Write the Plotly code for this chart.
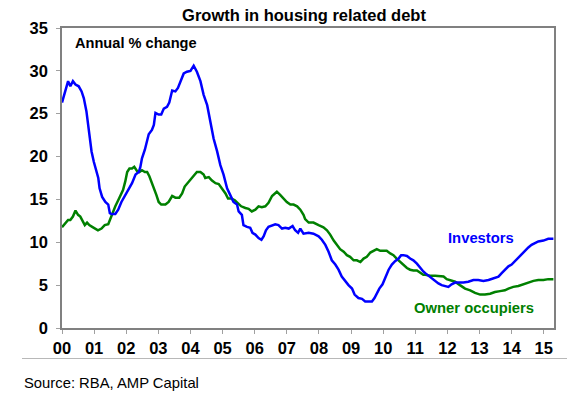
import plotly.graph_objects as go

# Investors (annual % change), x in decimal years
inv_x = [2000.0, 2000.05, 2000.19, 2000.26, 2000.34, 2000.42, 2000.52, 2000.61, 2000.68, 2000.76,
         2000.83, 2000.92, 2000.99, 2001.07, 2001.13, 2001.17, 2001.25, 2001.35, 2001.44, 2001.49,
         2001.54, 2001.66, 2001.75, 2001.85, 2001.97, 2002.08, 2002.18, 2002.29, 2002.39, 2002.44,
         2002.49, 2002.58, 2002.65, 2002.70, 2002.80, 2002.86, 2002.91, 2003.01, 2003.09, 2003.17,
         2003.27, 2003.34, 2003.43, 2003.53, 2003.61, 2003.69, 2003.79, 2003.89, 2004.0, 2004.10,
         2004.20, 2004.31, 2004.41, 2004.52, 2004.62, 2004.72, 2004.83, 2004.93, 2005.03, 2005.14,
         2005.24, 2005.34, 2005.45, 2005.50, 2005.60, 2005.65, 2005.76, 2005.86, 2005.93, 2006.02,
         2006.12, 2006.21, 2006.28, 2006.35, 2006.43, 2006.54, 2006.64, 2006.74, 2006.85, 2006.95,
         2007.06, 2007.18, 2007.26, 2007.35, 2007.42, 2007.52, 2007.68, 2007.83, 2007.99, 2008.09,
         2008.20, 2008.30, 2008.40, 2008.51, 2008.61, 2008.71, 2008.82, 2008.92, 2009.03, 2009.11,
         2009.23, 2009.34, 2009.44, 2009.54, 2009.65, 2009.73, 2009.80, 2009.88, 2009.98, 2010.06,
         2010.17, 2010.27, 2010.37, 2010.48, 2010.56, 2010.63, 2010.74, 2010.84, 2010.94, 2011.05,
         2011.15, 2011.25, 2011.31, 2011.41, 2011.51, 2011.62, 2011.72, 2011.82, 2011.93, 2012.03,
         2012.13, 2012.24, 2012.34, 2012.50, 2012.65, 2012.81, 2012.96, 2013.12, 2013.28, 2013.43,
         2013.59, 2013.69, 2013.79, 2013.90, 2014.00, 2014.10, 2014.21, 2014.31, 2014.42, 2014.52,
         2014.62, 2014.73, 2014.83, 2014.99, 2015.14, 2015.30]
inv_y = [26.3, 27.0, 28.8, 28.2, 28.8, 28.4, 28.2, 27.6, 26.8, 25.3,
         23.3, 20.6, 19.4, 18.2, 17.5, 16.3, 15.3, 14.7, 14.4, 13.4,
         13.3, 13.3, 13.8, 14.7, 15.5, 16.1, 16.9, 17.9, 18.2, 18.8,
         19.8, 20.8, 21.9, 22.6, 23.1, 23.7, 25.1, 24.9, 24.9, 25.6,
         25.8, 26.3, 27.7, 27.6, 28.0, 28.8, 29.7, 29.9, 30.0, 30.6,
         29.9, 28.8, 27.2, 26.0, 24.1, 22.1, 20.6, 19.0, 17.9, 16.3,
         15.5, 14.7, 14.4, 13.6, 13.2, 12.0, 11.8, 11.7, 11.1, 10.9,
         10.5, 10.3, 10.7, 11.4, 11.8, 12.0, 12.1, 12.0, 11.6, 11.7,
         11.6, 11.9, 11.4, 11.1, 11.6, 11.0, 11.1, 11.0, 10.7, 10.3,
         9.7, 8.9, 7.9, 7.4, 6.8, 6.0, 5.4, 5.0, 4.6, 3.9,
         3.5, 3.4, 3.1, 3.1, 3.1, 3.5, 4.0, 4.6, 5.1, 5.8,
         6.8, 7.4, 7.8, 8.1, 8.5, 8.5, 8.4, 8.1, 7.9, 7.5,
         7.0, 6.6, 6.4, 6.1, 5.8, 5.4, 5.2, 5.0, 4.9, 4.8,
         5.1, 5.3, 5.3, 5.3, 5.4, 5.6, 5.6, 5.5, 5.6, 5.8,
         6.0, 6.4, 6.8, 7.2, 7.4, 7.8, 8.2, 8.6, 9.0, 9.4,
         9.7, 9.9, 10.1, 10.2, 10.4, 10.4]

# Owner occupiers (annual % change)
own_x = [2000.0, 2000.09, 2000.19, 2000.26, 2000.34, 2000.42, 2000.50, 2000.57, 2000.65, 2000.71,
         2000.78, 2000.85, 2000.94, 2001.04, 2001.12, 2001.23, 2001.33, 2001.44, 2001.51, 2001.58,
         2001.66, 2001.75, 2001.82, 2001.90, 2001.97, 2002.03, 2002.10, 2002.18, 2002.25, 2002.34,
         2002.41, 2002.49, 2002.58, 2002.65, 2002.72, 2002.80, 2002.88, 2002.94, 2003.01, 2003.09,
         2003.22, 2003.32, 2003.43, 2003.53, 2003.65, 2003.74, 2003.82, 2003.89, 2004.0, 2004.10,
         2004.20, 2004.31, 2004.41, 2004.46, 2004.57, 2004.67, 2004.78, 2004.88, 2004.98, 2005.09,
         2005.17, 2005.27, 2005.38, 2005.48, 2005.58, 2005.71, 2005.81, 2005.91, 2006.02, 2006.12,
         2006.22, 2006.33, 2006.43, 2006.54, 2006.64, 2006.69, 2006.80, 2006.90, 2007.00, 2007.11,
         2007.21, 2007.32, 2007.42, 2007.52, 2007.57, 2007.68, 2007.83, 2007.99, 2008.14, 2008.25,
         2008.35, 2008.46, 2008.56, 2008.66, 2008.77, 2008.87, 2008.97, 2009.08, 2009.18, 2009.29,
         2009.39, 2009.49, 2009.60, 2009.70, 2009.80, 2009.91, 2010.01, 2010.11, 2010.22, 2010.32,
         2010.42, 2010.53, 2010.63, 2010.74, 2010.84, 2010.94, 2011.05, 2011.15, 2011.25, 2011.31,
         2011.46, 2011.62, 2011.77, 2011.88, 2011.98, 2012.08, 2012.24, 2012.39, 2012.55, 2012.71,
         2012.86, 2013.02, 2013.17, 2013.33, 2013.48, 2013.64, 2013.79, 2013.90, 2014.05, 2014.21,
         2014.36, 2014.52, 2014.68, 2014.83, 2014.99, 2015.14, 2015.30]
own_y = [11.75, 12.2, 12.6, 12.6, 13.0, 13.7, 13.2, 13.0, 12.4, 12.0,
         12.3, 12.0, 11.8, 11.6, 11.4, 11.6, 12.0, 12.1, 12.8, 13.4,
         14.2, 14.9, 15.5, 16.1, 17.1, 18.2, 18.6, 18.6, 18.8, 18.3,
         18.2, 18.4, 18.2, 18.2, 17.7, 16.9, 16.3, 15.5, 14.7, 14.4,
         14.4, 14.7, 15.4, 15.2, 15.2, 15.7, 16.5, 16.8, 17.4, 17.8,
         18.2, 18.2, 17.9, 17.5, 17.6, 17.2, 16.9, 16.8, 16.3, 15.7,
         15.1, 15.1, 14.9, 14.6, 14.2, 14.0, 13.9, 13.6, 13.8, 14.2,
         14.1, 14.2, 14.6, 15.4, 15.7, 15.9, 15.5, 15.1, 14.7, 14.4,
         14.4, 14.2, 13.8, 13.2, 12.7, 12.3, 12.3, 12.0, 11.75, 11.4,
         10.9, 10.2, 9.7, 9.2, 8.9, 8.5, 8.3, 7.9, 7.9, 7.7,
         8.1, 8.3, 8.8, 9.0, 9.2, 9.0, 9.0, 9.0, 8.7, 8.5,
         8.1, 7.7, 7.4, 7.0, 6.8, 6.7, 6.7, 6.4, 6.2, 6.2,
         6.1, 6.1, 6.0, 6.0, 5.7, 5.6, 5.4, 5.0, 4.6, 4.4,
         4.1, 3.9, 3.9, 4.0, 4.2, 4.3, 4.4, 4.6, 4.8, 4.9,
         5.1, 5.3, 5.5, 5.6, 5.6, 5.7, 5.7]

tick_vals = list(range(2000, 2016))
tick_text = ["00", "01", "02", "03", "04", "05", "06", "07", "08",
             "09", "10", "11", "12", "13", "14", "15"]

BLUE = "#0000FF"
GREEN = "#008000"
FONT = "Arial, Liberation Sans, sans-serif"

fig = go.Figure()
fig.add_trace(go.Scatter(x=own_x, y=own_y, mode="lines", name="Owner occupiers",
                         line=dict(color=GREEN, width=2.5)))
fig.add_trace(go.Scatter(x=inv_x, y=inv_y, mode="lines", name="Investors",
                         line=dict(color=BLUE, width=2.5)))

# plot area in pixels: left 61.5, right 554, top 28, bottom 328
L, R, T, B = 61.5, 554, 28, 328
W, H = 580, 402


def px(x):
    return (x - L) / (R - L)


def py(y):
    return (B - y) / (B - T)


fig.update_layout(
    width=W, height=H,
    margin=dict(l=L, r=W - R, t=T, b=H - B, pad=0),
    plot_bgcolor="white", paper_bgcolor="white",
    showlegend=False,
    font=dict(family=FONT, color="black"),
    title=dict(text="<b>Growth in housing related debt</b>", font=dict(size=16.5, family=FONT),
               x=304 / W, xanchor="center", xref="container",
               y=1 - 15 / H, yanchor="middle", yref="container"),
)
fig.update_xaxes(range=[2000, 2000 + (R - L) / 32.15], tickvals=tick_vals, ticktext=tick_text,
                 showgrid=False, zeroline=False, showline=True, linecolor="#808080", linewidth=1.5,
                 mirror=True, ticks="outside", ticklen=4, tickcolor="#A0A0A0",
                 tickfont=dict(size=16.5, family=FONT, weight="bold"))
fig.update_yaxes(range=[0, 35], dtick=5, tick0=0,
                 showgrid=False, zeroline=False, showline=True, linecolor="#808080", linewidth=1.5,
                 mirror=True, ticks="outside", ticklen=4, tickcolor="#A0A0A0",
                 ticklabelstandoff=5,
                 tickfont=dict(size=16.5, family=FONT, weight="bold"))

fig.add_annotation(text="<b>Annual % change</b>", xref="paper", yref="paper",
                   x=px(73), y=py(43), xanchor="left", yanchor="middle", showarrow=False,
                   font=dict(size=14.6, family=FONT, color="black"))
fig.add_annotation(text="<b>Investors</b>", xref="paper", yref="paper",
                   x=px(481), y=py(238), xanchor="center", yanchor="middle", showarrow=False,
                   font=dict(size=14.8, family=FONT, color=BLUE))
fig.add_annotation(text="<b>Owner occupiers</b>", xref="paper", yref="paper",
                   x=px(474), y=py(308), xanchor="center", yanchor="middle", showarrow=False,
                   font=dict(size=14.8, family=FONT, color=GREEN))
fig.add_annotation(text="Source: RBA, AMP Capital", xref="paper", yref="paper",
                   x=px(21), y=py(383), xanchor="left", yanchor="middle", showarrow=False,
                   font=dict(size=14.8, family=FONT, color="black"))
# thin separator between the chart and the source note (a 1px-high filled box)
fig.add_annotation(text=" ", xref="paper", yref="paper", showarrow=False,
                   x=px(21), y=py(358), xanchor="left", yanchor="middle",
                   width=545, height=1, borderpad=0, borderwidth=0,
                   bgcolor="#B8B8B8", font=dict(size=1))

fig.write_html("out.html")
